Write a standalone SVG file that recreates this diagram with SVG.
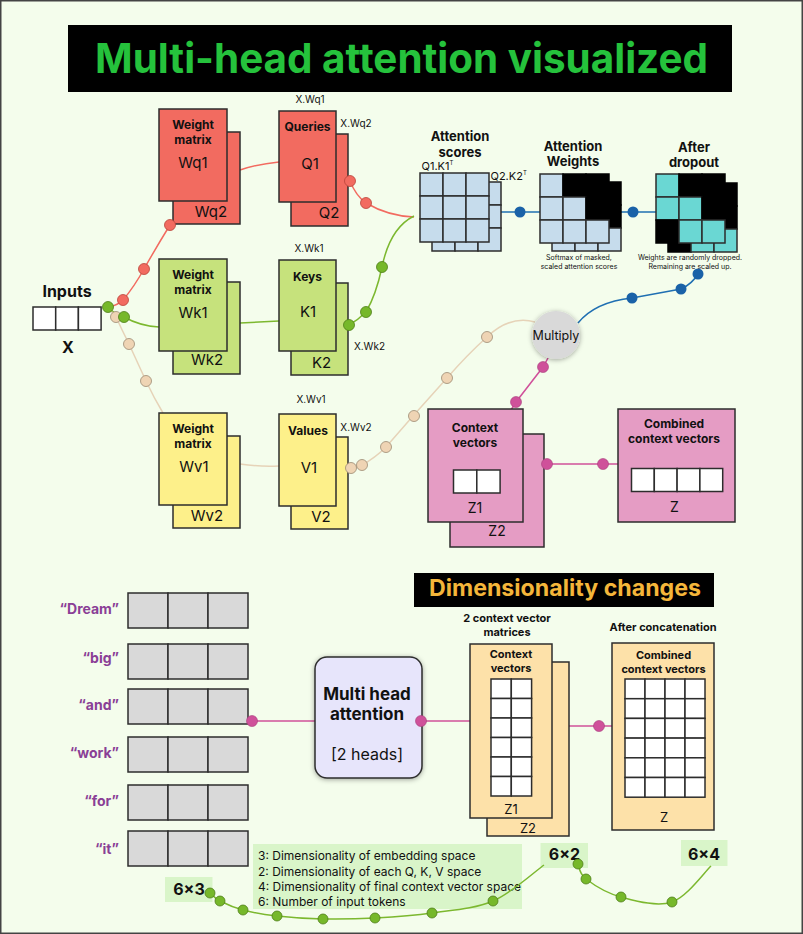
<svg xmlns="http://www.w3.org/2000/svg" width="803" height="934" viewBox="0 0 803 934">
<style>
.t{font-family:Inter,"Liberation Sans",Arial,sans-serif;fill:#111}
.b{font-weight:700}
.c{text-anchor:middle}
.r{text-anchor:end}
.bx{stroke:#2d2d2d;stroke-width:1.5}
.red{fill:#f26b60}
.grn{fill:#c6e27c}
.yel{fill:#fdf08a}
.pnk{fill:#e59cc4}
.pch{fill:#fde1a9}
.lb{fill:#c6dcec}
.tl{fill:#6ad7d3}
.bk{fill:#000;stroke:#000}
.wh{fill:#fff}
.gy{fill:#d9d9d9}
.cn{fill:none;stroke-width:1.5}
.dR{fill:#f26b60;stroke:#b9443a;stroke-width:0.8}
.dG{fill:#76b82a;stroke:#4e7d18;stroke-width:0.8}
.dT{fill:#efd4b4;stroke:#9c8a72;stroke-width:0.8}
.dB{fill:#1a62a8}
.dP{fill:#cf519a;stroke:#a63d7a;stroke-width:0.6}
</style>
<defs>
<filter id="sh" x="-40%" y="-40%" width="180%" height="180%">
<feDropShadow dx="0" dy="1" stdDeviation="2.5" flood-color="#000" flood-opacity="0.35"/>
</filter>
</defs>
<rect x="0" y="0" width="803" height="934" fill="#f4fdec"/>
<rect x="0.75" y="0.75" width="801.5" height="932.5" fill="none" stroke="#444" stroke-width="1.5"/>

<g id="title">
<rect x="68" y="25" width="664" height="67" fill="#000"/>
<text x="401.5" y="72.5" class="t b c" font-size="41" textLength="613" lengthAdjust="spacingAndGlyphs" style="fill:#25c23c">Multi-head attention visualized</text>
</g>

<g id="connectors">
<path class="cn" stroke="#f26b60" d="M109,307 Q118,305 123,300 Q134,287 144,269 Q157,246 170,225"/>
<path class="cn" stroke="#f26b60" d="M240,170 Q258,164 279,162"/>
<path class="cn" stroke="#f26b60" d="M350,181 Q356,196 366,203 Q388,216 414,217"/>
<path class="cn" stroke="#7cb82f" d="M108,307 Q114,314 124,317 Q140,326 159,327"/>
<path class="cn" stroke="#7cb82f" d="M240,323 L279,321"/>
<path class="cn" stroke="#7cb82f" d="M349,325 Q358,320 366,312 Q376,295 382,267 Q390,228 414,216"/>
<path class="cn" stroke="#e6d3b8" d="M110,310 L116,317 Q122,330 129,344 L146,381 Q154,398 163,413"/>
<path class="cn" stroke="#e6d3b8" d="M240,464 Q260,467 279,466"/>
<path class="cn" stroke="#e6d3b8" d="M351,468 L362,465 Q375,458 386,447 L413,416 Q430,397 447,378 Q467,355 487,337 Q510,315 535,322"/>
<path class="cn" stroke="#1f6fb2" d="M501,212 L540,212"/>
<path class="cn" stroke="#1f6fb2" d="M621,212 L656,212"/>
<path class="cn" stroke="#1f6fb2" d="M578,323 Q595,302 632,298 L681,289 Q692,284 698,274"/>
<path class="cn" stroke="#d0509a" d="M548,358 L543,367 L516,402 L511,410"/>
<path class="cn" stroke="#d0509a" d="M544,464 L618,464"/>
<path class="cn" stroke="#d0509a" d="M247,721 L315,721"/>
<path class="cn" stroke="#d0509a" d="M421,721 L470,721"/>
<path class="cn" stroke="#d0509a" d="M569,726 L612,726"/>
</g>

<g id="weight-q">
<rect class="bx red" x="173" y="132" width="67" height="92"/>
<rect class="bx red" x="159" y="109" width="68" height="92"/>
<text class="t b c" x="193" y="129" font-size="12">Weight</text>
<text class="t b c" x="193" y="144" font-size="12">matrix</text>
<text class="t c" x="193" y="167.5" font-size="15">Wq1</text>
<text class="t c" x="211" y="216.5" font-size="15">Wq2</text>
</g>
<g id="queries">
<rect class="bx red" x="291" y="134" width="57" height="92"/>
<rect class="bx red" x="279" y="111" width="57" height="91"/>
<text class="t b c" x="307.5" y="130.5" font-size="12">Queries</text>
<text class="t c" x="310" y="168.5" font-size="15">Q1</text>
<text class="t c" x="329" y="217.5" font-size="15">Q2</text>
<text class="t c" x="310" y="102.6" font-size="10">X.Wq1</text>
<text class="t c" x="356" y="126.6" font-size="10">X.Wq2</text>
</g>

<g id="weight-k">
<rect class="bx grn" x="173" y="282" width="67" height="92"/>
<rect class="bx grn" x="159" y="259" width="68" height="92"/>
<text class="t b c" x="193" y="279" font-size="12">Weight</text>
<text class="t b c" x="193" y="294" font-size="12">matrix</text>
<text class="t c" x="193" y="317.5" font-size="15">Wk1</text>
<text class="t c" x="207" y="365" font-size="15">Wk2</text>
</g>
<g id="keys">
<rect class="bx grn" x="291" y="283" width="57" height="92"/>
<rect class="bx grn" x="279" y="260" width="57" height="91"/>
<text class="t b c" x="307.5" y="281" font-size="12">Keys</text>
<text class="t c" x="308" y="317" font-size="15">K1</text>
<text class="t c" x="321.5" y="367.5" font-size="15">K2</text>
<text class="t c" x="309" y="251.6" font-size="10">X.Wk1</text>
<text class="t c" x="369.5" y="349.6" font-size="10">X.Wk2</text>
</g>

<g id="weight-v">
<rect class="bx yel" x="173" y="436" width="67" height="92"/>
<rect class="bx yel" x="159" y="413" width="68" height="92"/>
<text class="t b c" x="193" y="433" font-size="12">Weight</text>
<text class="t b c" x="193" y="448" font-size="12">matrix</text>
<text class="t c" x="194" y="472" font-size="15">Wv1</text>
<text class="t c" x="207" y="520.5" font-size="15">Wv2</text>
</g>
<g id="values">
<rect class="bx yel" x="291" y="437" width="57" height="92"/>
<rect class="bx yel" x="279" y="414" width="57" height="92"/>
<text class="t b c" x="308" y="434.5" font-size="12">Values</text>
<text class="t c" x="309" y="472.5" font-size="15">V1</text>
<text class="t c" x="321" y="521.5" font-size="15">V2</text>
<text class="t c" x="311" y="402.6" font-size="10">X.Wv1</text>
<text class="t c" x="356" y="430.6" font-size="10">X.Wv2</text>
</g>

<g id="inputs">
<text class="t b c" x="67" y="296.5" font-size="16">Inputs</text>
<rect class="bx wh" x="33" y="307" width="22.7" height="23"/>
<rect class="bx wh" x="55.7" y="307" width="22.7" height="23"/>
<rect class="bx wh" x="78.4" y="307" width="22.7" height="23"/>
<text class="t b c" x="68" y="352.7" font-size="16">X</text>
</g>

<g id="attention-scores">
<text class="t b c" x="460" y="141.4" font-size="13">Attention</text>
<text class="t b c" x="460" y="157" font-size="13">scores</text>
<text class="t" x="421.5" y="170" font-size="11">Q1.K1<tspan font-size="6" dy="-5">T</tspan></text>
<text class="t" x="490.5" y="179.7" font-size="11">Q2.K2<tspan font-size="6" dy="-5">T</tspan></text>
<g class="bx lb">
<rect x="432" y="182" width="23" height="23"/><rect x="455" y="182" width="23" height="23"/><rect x="478" y="182" width="23" height="23"/>
<rect x="432" y="205" width="23" height="23"/><rect x="455" y="205" width="23" height="23"/><rect x="478" y="205" width="23" height="23"/>
<rect x="432" y="228" width="23" height="23"/><rect x="455" y="228" width="23" height="23"/><rect x="478" y="228" width="23" height="23"/>
<rect x="420" y="173" width="23" height="23"/><rect x="443" y="173" width="23" height="23"/><rect x="466" y="173" width="23" height="23"/>
<rect x="420" y="196" width="23" height="23"/><rect x="443" y="196" width="23" height="23"/><rect x="466" y="196" width="23" height="23"/>
<rect x="420" y="219" width="23" height="23"/><rect x="443" y="219" width="23" height="23"/><rect x="466" y="219" width="23" height="23"/>
</g>
</g>

<g id="attention-weights">
<text class="t b c" x="573" y="150.7" font-size="13">Attention</text>
<text class="t b c" x="573" y="166.4" font-size="13">Weights</text>
<g class="bx">
<rect class="lb" x="552" y="182" width="23" height="23"/><rect class="bk" x="575" y="182" width="23" height="23"/><rect class="bk" x="598" y="182" width="23" height="23"/>
<rect class="lb" x="552" y="205" width="23" height="23"/><rect class="lb" x="575" y="205" width="23" height="23"/><rect class="bk" x="598" y="205" width="23" height="23"/>
<rect class="lb" x="552" y="228" width="23" height="23"/><rect class="lb" x="575" y="228" width="23" height="23"/><rect class="lb" x="598" y="228" width="23" height="23"/>
<rect class="lb" x="540" y="174" width="23" height="23"/><rect class="bk" x="563" y="174" width="23" height="23"/><rect class="bk" x="586" y="174" width="23" height="23"/>
<rect class="lb" x="540" y="197" width="23" height="23"/><rect class="lb" x="563" y="197" width="23" height="23"/><rect class="bk" x="586" y="197" width="23" height="23"/>
<rect class="lb" x="540" y="220" width="23" height="23"/><rect class="lb" x="563" y="220" width="23" height="23"/><rect class="lb" x="586" y="220" width="23" height="23"/>
</g>
<text class="t c" x="579" y="260" font-size="7">Softmax of masked,</text>
<text class="t c" x="579" y="268.5" font-size="7">scaled attention scores</text>
</g>

<g id="after-dropout">
<text class="t b c" x="694" y="152" font-size="13">After</text>
<text class="t b c" x="694" y="167.4" font-size="13">dropout</text>
<g class="bx">
<rect class="tl" x="668" y="183" width="23" height="23"/><rect class="bk" x="691" y="183" width="23" height="23"/><rect class="bk" x="714" y="183" width="23" height="23"/>
<rect class="tl" x="668" y="206" width="23" height="23"/><rect class="tl" x="691" y="206" width="23" height="23"/><rect class="bk" x="714" y="206" width="23" height="23"/>
<rect class="bk" x="668" y="229" width="23" height="23"/><rect class="tl" x="691" y="229" width="23" height="23"/><rect class="tl" x="714" y="229" width="23" height="23"/>
<rect class="tl" x="656" y="174" width="23" height="23"/><rect class="bk" x="679" y="174" width="23" height="23"/><rect class="bk" x="702" y="174" width="23" height="23"/>
<rect class="tl" x="656" y="197" width="23" height="23"/><rect class="tl" x="679" y="197" width="23" height="23"/><rect class="bk" x="702" y="197" width="23" height="23"/>
<rect class="bk" x="656" y="220" width="23" height="23"/><rect class="tl" x="679" y="220" width="23" height="23"/><rect class="tl" x="702" y="220" width="23" height="23"/>
</g>
<text class="t c" x="690" y="260" font-size="7">Weights are randomly dropped.</text>
<text class="t c" x="690" y="268.5" font-size="7">Remaining are scaled up.</text>
</g>

<g id="multiply">
<circle cx="556" cy="335" r="24" fill="#d9d9d9" filter="url(#sh)"/>
<text class="t c" x="556" y="339.8" font-size="12.5">Multiply</text>
</g>

<g id="context-vectors">
<rect class="bx pnk" x="450" y="434" width="94" height="113"/>
<rect class="bx pnk" x="428" y="409" width="95" height="113"/>
<text class="t b c" x="475" y="432" font-size="12">Context</text>
<text class="t b c" x="475" y="447" font-size="12">vectors</text>
<rect class="bx wh" x="453.5" y="470" width="23.3" height="23"/>
<rect class="bx wh" x="476.8" y="470" width="23.3" height="23"/>
<text class="t c" x="475" y="513.3" font-size="14">Z1</text>
<text class="t c" x="497" y="535.7" font-size="14">Z2</text>
</g>

<g id="combined-context">
<rect class="bx pnk" x="618" y="409" width="117" height="113"/>
<text class="t b c" x="674" y="427.6" font-size="12">Combined</text>
<text class="t b c" x="674" y="442.6" font-size="12">context vectors</text>
<rect class="bx wh" x="631.5" y="468.5" width="22.8" height="23"/>
<rect class="bx wh" x="654.3" y="468.5" width="22.8" height="23"/>
<rect class="bx wh" x="677.1" y="468.5" width="22.8" height="23"/>
<rect class="bx wh" x="699.9" y="468.5" width="22.8" height="23"/>
<text class="t c" x="674.5" y="511.7" font-size="14">Z</text>
</g>

<g id="dimensionality-title">
<rect x="414" y="573" width="300" height="34" fill="#000"/>
<text class="t b c" x="565" y="596" font-size="23" textLength="272" lengthAdjust="spacingAndGlyphs" style="fill:#f4b63a">Dimensionality changes</text>
</g>

<g id="tokens">
<g class="bx gy">
<rect x="128" y="593" width="40" height="35"/><rect x="168" y="593" width="40" height="35"/><rect x="208" y="593" width="40" height="35"/>
<rect x="128" y="644" width="40" height="35"/><rect x="168" y="644" width="40" height="35"/><rect x="208" y="644" width="40" height="35"/>
<rect x="128" y="689" width="40" height="35"/><rect x="168" y="689" width="40" height="35"/><rect x="208" y="689" width="40" height="35"/>
<rect x="128" y="737" width="40" height="35"/><rect x="168" y="737" width="40" height="35"/><rect x="208" y="737" width="40" height="35"/>
<rect x="128" y="785" width="40" height="35"/><rect x="168" y="785" width="40" height="35"/><rect x="208" y="785" width="40" height="35"/>
<rect x="128" y="831" width="40" height="35"/><rect x="168" y="831" width="40" height="35"/><rect x="208" y="831" width="40" height="35"/>
</g>
<g class="t b r" font-size="14" style="fill:#8a3f96">
<text x="119" y="614" style="fill:#8a3f96">“Dream”</text>
<text x="119" y="663" style="fill:#8a3f96">“big”</text>
<text x="119" y="710" style="fill:#8a3f96">“and”</text>
<text x="119" y="758" style="fill:#8a3f96">“work”</text>
<text x="119" y="806" style="fill:#8a3f96">“for”</text>
<text x="119" y="854" style="fill:#8a3f96">“it”</text>
</g>
</g>

<g id="multi-head-attention">
<rect class="bx" x="315" y="657" width="107" height="121" rx="12" fill="#e7e5fb" filter="url(#sh)"/>
<text class="t b c" x="367" y="700" font-size="17">Multi head</text>
<text class="t b c" x="367" y="720" font-size="17">attention</text>
<text class="t c" x="367" y="759.7" font-size="16">[2 heads]</text>
</g>

<g id="context-matrices">
<text class="t b c" x="507" y="622.3" font-size="11">2 context vector</text>
<text class="t b c" x="507" y="635.7" font-size="11">matrices</text>
<rect class="bx pch" x="487" y="662" width="82" height="174"/>
<rect class="bx pch" x="470" y="644" width="82" height="174"/>
<text class="t b c" x="511" y="658.3" font-size="11">Context</text>
<text class="t b c" x="511" y="671.7" font-size="11">vectors</text>
<g class="bx wh">
<rect x="491" y="679" width="20.3" height="19.5"/><rect x="511.3" y="679" width="20.3" height="19.5"/>
<rect x="491" y="698.5" width="20.3" height="19.5"/><rect x="511.3" y="698.5" width="20.3" height="19.5"/>
<rect x="491" y="718" width="20.3" height="19.5"/><rect x="511.3" y="718" width="20.3" height="19.5"/>
<rect x="491" y="737.5" width="20.3" height="19.5"/><rect x="511.3" y="737.5" width="20.3" height="19.5"/>
<rect x="491" y="757" width="20.3" height="19.5"/><rect x="511.3" y="757" width="20.3" height="19.5"/>
<rect x="491" y="776.5" width="20.3" height="19.5"/><rect x="511.3" y="776.5" width="20.3" height="19.5"/>
</g>
<text class="t c" x="511" y="813.6" font-size="13">Z1</text>
<text class="t c" x="528" y="833" font-size="13">Z2</text>
</g>

<g id="concatenated">
<text class="t b c" x="663" y="631.3" font-size="11">After concatenation</text>
<rect class="bx pch" x="612" y="643" width="102" height="187"/>
<text class="t b c" x="663.5" y="659.3" font-size="11">Combined</text>
<text class="t b c" x="663.5" y="672.7" font-size="11">context vectors</text>
<g class="bx wh">
<rect x="625" y="679" width="20" height="19.7"/><rect x="645" y="679" width="20" height="19.7"/><rect x="665" y="679" width="20" height="19.7"/><rect x="685" y="679" width="20" height="19.7"/>
<rect x="625" y="698.7" width="20" height="19.7"/><rect x="645" y="698.7" width="20" height="19.7"/><rect x="665" y="698.7" width="20" height="19.7"/><rect x="685" y="698.7" width="20" height="19.7"/>
<rect x="625" y="718.4" width="20" height="19.7"/><rect x="645" y="718.4" width="20" height="19.7"/><rect x="665" y="718.4" width="20" height="19.7"/><rect x="685" y="718.4" width="20" height="19.7"/>
<rect x="625" y="738.1" width="20" height="19.7"/><rect x="645" y="738.1" width="20" height="19.7"/><rect x="665" y="738.1" width="20" height="19.7"/><rect x="685" y="738.1" width="20" height="19.7"/>
<rect x="625" y="757.8" width="20" height="19.7"/><rect x="645" y="757.8" width="20" height="19.7"/><rect x="665" y="757.8" width="20" height="19.7"/><rect x="685" y="757.8" width="20" height="19.7"/>
<rect x="625" y="777.5" width="20" height="19.7"/><rect x="645" y="777.5" width="20" height="19.7"/><rect x="665" y="777.5" width="20" height="19.7"/><rect x="685" y="777.5" width="20" height="19.7"/>
</g>
<text class="t c" x="664" y="822" font-size="13">Z</text>
</g>

<g id="legend">
<rect x="253" y="844" width="269" height="65" fill="#d9f5c9"/>
<text class="t" x="258" y="860" font-size="12">3: Dimensionality of embedding space</text>
<text class="t" x="258" y="876" font-size="12">2: Dimensionality of each Q, K, V space</text>
<text class="t" x="258" y="890.5" font-size="12">4: Dimensionality of final context vector space</text>
<text class="t" x="258" y="905.5" font-size="12">6: Number of input tokens</text>
</g>
<g id="dim-6x3">
<rect x="165" y="877" width="47.5" height="25" fill="#d9f5c9"/>
<text class="t b c" x="189" y="895" font-size="16">6×3</text>
</g>
<g id="dim-6x2">
<rect x="540.5" y="843" width="47.5" height="25" fill="#d9f5c9"/>
<text class="t b c" x="564.5" y="859.7" font-size="16">6×2</text>
</g>
<g id="dim-6x4">
<rect x="681" y="840" width="46.5" height="26" fill="#d9f5c9"/>
<text class="t b c" x="704" y="859.7" font-size="16">6×4</text>
</g>

<g id="connectors-bottom">
<path class="cn" stroke="#7cb82f" d="M210,893 C211.7,894.3 214.5,898.2 220,901 C225.5,903.8 233.5,907.5 243,910 C252.5,912.5 263.7,914.5 277,916 C290.3,917.5 306.7,918.7 323,919 C339.3,919.3 356.8,919 375,918 C393.2,917 412.3,915.8 432,913 C451.7,910.2 474.3,909 493,901 C511.7,893 535.5,871 544,865"/>
<path class="cn" stroke="#7cb82f" d="M578,864 C579.3,866.5 578.8,873.5 586,879 C593.2,884.5 606.7,893.2 621,897 C635.3,900.8 657,907.2 672,902 C687,896.8 704.5,872 711,866"/>
</g>

<g id="dots">
<circle class="dR" cx="123" cy="300" r="5.5"/>
<circle class="dR" cx="144" cy="269" r="5.5"/>
<circle class="dR" cx="170" cy="225" r="5.5"/>
<circle class="dR" cx="350" cy="181" r="5.5"/>
<circle class="dR" cx="366" cy="203" r="5.5"/>
<circle class="dT" cx="116" cy="317" r="5.5"/>
<circle class="dT" cx="129" cy="344" r="5.5"/>
<circle class="dT" cx="146" cy="381" r="5.5"/>
<circle class="dT" cx="351" cy="468" r="5.5"/>
<circle class="dT" cx="362" cy="465" r="5.5"/>
<circle class="dT" cx="386" cy="447" r="5.5"/>
<circle class="dT" cx="414" cy="416" r="5.5"/>
<circle class="dT" cx="447" cy="378" r="5.5"/>
<circle class="dT" cx="487" cy="337" r="5.5"/>
<circle class="dG" cx="108" cy="307" r="5.5"/>
<circle class="dG" cx="124" cy="317" r="5.5"/>
<circle class="dG" cx="349" cy="325" r="5.5"/>
<circle class="dG" cx="366" cy="312" r="5.5"/>
<circle class="dG" cx="382" cy="267" r="5.5"/>
<circle class="dB" cx="520" cy="212" r="5.5"/>
<circle class="dB" cx="633" cy="212" r="5.5"/>
<circle class="dB" cx="632" cy="298" r="5.5"/>
<circle class="dB" cx="681" cy="289" r="5.5"/>
<circle class="dB" cx="698" cy="274" r="5.5"/>
<circle class="dP" cx="543" cy="367" r="5.5"/>
<circle class="dP" cx="516" cy="402" r="5.5"/>
<circle class="dP" cx="547" cy="464" r="5.5"/>
<circle class="dP" cx="603" cy="464" r="5.5"/>
<circle class="dP" cx="252" cy="721" r="5.5"/>
<circle class="dP" cx="421" cy="721" r="5.5"/>
<circle class="dP" cx="599" cy="726" r="5.5"/>
<circle class="dG" cx="210" cy="893" r="5"/>
<circle class="dG" cx="220" cy="901" r="5"/>
<circle class="dG" cx="243" cy="910" r="5"/>
<circle class="dG" cx="277" cy="916" r="5"/>
<circle class="dG" cx="323" cy="919" r="5"/>
<circle class="dG" cx="375" cy="918" r="5"/>
<circle class="dG" cx="432" cy="913" r="5"/>
<circle class="dG" cx="493" cy="901" r="5"/>
<circle class="dG" cx="578" cy="864" r="5"/>
<circle class="dG" cx="586" cy="879" r="5"/>
<circle class="dG" cx="621" cy="897" r="5"/>
<circle class="dG" cx="672" cy="902" r="5"/>
</g>
</svg>
